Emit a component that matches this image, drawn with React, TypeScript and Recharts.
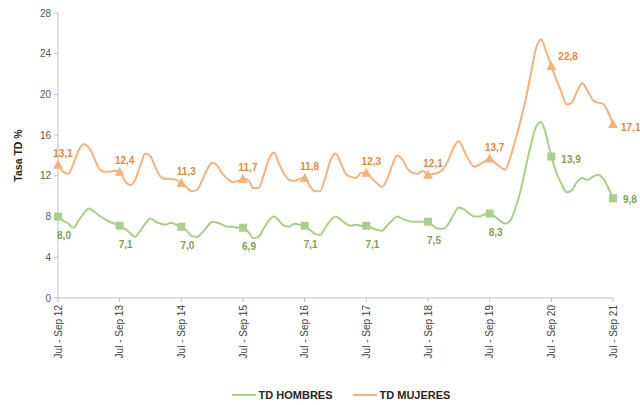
import { LabelList, Legend, Line, LineChart, XAxis, YAxis } from 'recharts';

// trimestres móviles, Jul-Sep 2012 a Jul-Sep 2021
const MESES = ['Ene', 'Feb', 'Mar', 'Abr', 'May', 'Jun', 'Jul', 'Ago', 'Sep', 'Oct', 'Nov', 'Dic'];
const periodos: string[] = [];
for (let k = 0; k <= 108; k++) {
  const ini = (6 + k) % 12;
  const fin = (8 + k) % 12;
  const anio = 12 + Math.floor((8 + k) / 12);
  periodos.push(`${MESES[ini]} - ${MESES[fin]} ${anio}`);
}

const tdHombres = [
  8.0, 7.6, 7.3, 6.9, 7.6, 8.3, 8.8, 8.5, 8.1, 7.8, 7.5, 7.3, 7.1,
  6.8, 6.4, 6.0, 6.6, 7.3, 7.8, 7.5, 7.3, 7.2, 7.4, 7.2, 7.0,
  6.6, 6.1, 6.0, 6.4, 7.0, 7.5, 7.4, 7.2, 7.0, 7.0, 6.9, 6.9,
  6.5, 5.9, 6.0, 6.8, 7.6, 8.0, 7.6, 7.1, 7.0, 7.3, 7.2, 7.1,
  6.7, 6.3, 6.2, 6.9, 7.6, 8.0, 7.7, 7.3, 7.1, 7.2, 7.1, 7.1,
  6.9, 6.7, 6.6, 7.1, 7.6, 8.0, 7.8, 7.6, 7.5, 7.5, 7.5, 7.5,
  7.1, 6.8, 6.8, 7.3, 8.2, 8.9, 8.7, 8.3, 8.0, 8.0, 8.2, 8.3,
  8.0, 7.6, 7.3, 7.6, 8.8, 10.5, 12.8, 15.0, 16.8, 17.3, 16.0, 13.9,
  12.3, 11.2, 10.4, 10.6, 11.4, 11.8, 11.6, 11.9, 12.1, 11.8, 10.9, 9.8
];

const tdMujeres = [
  13.1, 12.4, 12.2, 13.2, 14.5, 15.1, 14.8, 13.8, 12.7, 12.4, 12.4, 12.5, 12.4,
  11.5, 11.1, 11.6, 13.0, 14.2, 13.9, 12.8, 11.9, 11.7, 11.7, 11.6, 11.3,
  10.9, 10.5, 10.6, 11.5, 12.6, 13.3, 13.0, 12.2, 11.7, 11.4, 11.5, 11.7,
  11.6, 10.8, 10.8, 12.0, 13.6, 14.3, 13.2, 12.2, 11.6, 11.5, 11.7, 11.8,
  11.0, 10.5, 10.5, 11.8, 13.5, 14.2, 13.3, 12.2, 11.9, 11.8, 12.3, 12.3,
  11.8, 11.3, 10.9, 11.6, 13.0, 14.0, 13.6, 12.7, 12.3, 12.2, 12.5, 12.1,
  12.2, 12.3, 12.7, 13.6, 14.8, 15.4, 14.5, 13.5, 12.9, 13.1, 13.4, 13.7,
  13.3, 12.9, 12.6, 13.8, 15.5, 17.4, 19.5, 22.0, 24.5, 25.4, 24.2, 22.8,
  21.4, 20.2, 19.0, 19.2, 20.3, 21.1, 20.4, 19.5, 19.2, 19.1, 18.3, 17.1
];

const yTicks = [0, 4, 8, 12, 16, 20, 24, 28];

const data = periodos.map((periodo, i) => ({
  periodo,
  hombres: tdHombres[i],
  mujeres: tdMujeres[i]
}));

const VERDE = '#a9cf8b';
const VERDE_TXT = '#7f9e57';
const NARANJA = '#f5b27d';
const NARANJA_TXT = '#e8863a';
const FONT = '"Liberation Sans", Arial, sans-serif';

const fmt = (v: number) => v.toFixed(1).replace('.', ',');

function DotHombres(props: any) {
  const { cx, cy, index } = props;
  if (index % 12 !== 0) return <g key={`h${index}`} />;
  return <rect key={`h${index}`} x={cx - 4} y={cy - 4} width={8} height={8} fill={VERDE} />;
}

function DotMujeres(props: any) {
  const { cx, cy, index } = props;
  if (index % 12 !== 0) return <g key={`m${index}`} />;
  return (
    <path key={`m${index}`} d={`M${cx},${cy - 5} L${cx + 5},${cy + 4} L${cx - 5},${cy + 4} Z`} fill={NARANJA} />
  );
}

function LabelHombres(props: any) {
  const { x, y, value, index } = props;
  if (index % 12 !== 0) return null;
  let dx = 6;
  let dy = 22;
  let anchor = 'middle';
  if (index === 96) { dx = 10; dy = 6; anchor = 'start'; }
  if (index === 108) { dx = 10; dy = 5; anchor = 'start'; }
  return (
    <text x={x + dx} y={y + dy} textAnchor={anchor} fill={VERDE_TXT} fontSize={10} fontWeight="bold" fontFamily={FONT}>
      {fmt(value)}
    </text>
  );
}

function LabelMujeres(props: any) {
  const { x, y, value, index } = props;
  if (index % 12 !== 0) return null;
  let dx = 5;
  let dy = -8;
  let anchor = 'middle';
  if (index === 96) { dx = 7; dy = -6; anchor = 'start'; }
  if (index === 108) { dx = 8; dy = 7; anchor = 'start'; }
  return (
    <text x={x + dx} y={y + dy} textAnchor={anchor} fill={NARANJA_TXT} fontSize={10} fontWeight="bold" fontFamily={FONT}>
      {fmt(value)}
    </text>
  );
}

function TickPeriodo(props: any) {
  const { x, y, payload } = props;
  return (
    <text
      transform={`translate(${x},${y}) rotate(-90)`}
      textAnchor="end"
      dy="0.35em"
      fill="#404040"
      fontSize={10}
      fontFamily={FONT}
    >
      {payload.value}
    </text>
  );
}

function Leyenda() {
  const item = (color: string, texto: string) => (
    <div style={{ display: 'flex', alignItems: 'center', margin: '0 10px' }}>
      <div style={{ width: 24, height: 2, background: color, marginRight: 3 }} />
      <span style={{ fontSize: 11, fontWeight: 'bold', color: '#262626', fontFamily: FONT }}>{texto}</span>
    </div>
  );
  return (
    <div style={{ height: 20, display: 'flex', justifyContent: 'center', alignItems: 'center', paddingLeft: 42 }}>
      {item(VERDE, 'TD HOMBRES')}
      {item(NARANJA, 'TD MUJERES')}
    </div>
  );
}

export default function App() {
  return (
    <div style={{ position: 'absolute', left: 0, top: 0, background: '#fff' }}>
      <LineChart width={640} height={405} data={data} margin={{ top: 13, right: 27, left: 8, bottom: 0 }}>
        <XAxis
          dataKey="periodo"
          interval={11}
          height={87}
          tick={<TickPeriodo />}
          tickSize={4}
          tickMargin={3}
          axisLine={{ stroke: '#bfbfbf' }}
          tickLine={{ stroke: '#bfbfbf' }}
        />
        <YAxis
          domain={[0, 28]}
          ticks={yTicks}
          width={50}
          tickSize={4}
          tickMargin={3}
          tick={{ fill: '#595959', fontSize: 10, fontFamily: FONT }}
          axisLine={{ stroke: '#bfbfbf' }}
          tickLine={{ stroke: '#bfbfbf' }}
          label={{
            value: 'Tasa TD %',
            angle: -90,
            position: 'insideLeft',
            offset: 10,
            style: { textAnchor: 'middle', fontSize: 10.5, fontWeight: 'bold', fill: '#262626', fontFamily: FONT }
          }}
        />
        <Legend verticalAlign="bottom" content={<Leyenda />} wrapperStyle={{ left: 0, width: 640 }} />
        <Line
          type="monotone"
          dataKey="hombres"
          name="TD HOMBRES"
          stroke={VERDE}
          strokeWidth={2}
          dot={DotHombres}
          activeDot={false}
          isAnimationActive={false}
        >
          <LabelList dataKey="hombres" content={LabelHombres} />
        </Line>
        <Line
          type="monotone"
          dataKey="mujeres"
          name="TD MUJERES"
          stroke={NARANJA}
          strokeWidth={2}
          dot={DotMujeres}
          activeDot={false}
          isAnimationActive={false}
        >
          <LabelList dataKey="mujeres" content={LabelMujeres} />
        </Line>
      </LineChart>
    </div>
  );
}
